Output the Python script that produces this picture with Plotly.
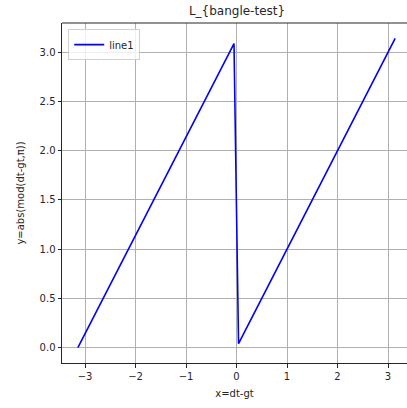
import plotly.graph_objects as go

# Data (y = abs(mod(x, pi)))
x_vals = [-3.1416, -0.05, 0.04, 3.1416]
y_vals = [0.0, 3.09, 0.04, 3.1416]

x_ticks = [-3, -2, -1, 0, 1, 2, 3]
x_ticktext = ["\u22123", "\u22122", "\u22121", "0", "1", "2", "3"]
y_ticks = [0.0, 0.5, 1.0, 1.5, 2.0, 2.5, 3.0]
y_ticktext = ["0.0", "0.5", "1.0", "1.5", "2.0", "2.5", "3.0"]

title_text = "L_{bangle-test}"
x_title = "x=dt-gt"
y_title = "y=abs(mod(dt-gt,\u03c0))"
series_name = "line1"

FONT = "DejaVu Sans"

fig = go.Figure()
fig.add_trace(go.Scatter(x=x_vals, y=y_vals, mode="lines", name=series_name,
                         line=dict(color="#0000ff", width=1.6)))

fig.update_layout(
    width=407, height=408,
    margin=dict(l=62, r=0, t=23, b=45),
    paper_bgcolor="white", plot_bgcolor="white",
    font=dict(family=FONT, size=10, color="#262626"),
    title=dict(text=title_text, x=237/407, xanchor="center", y=1 - 11/408, yanchor="middle",
               font=dict(family=FONT, size=12, color="#262626")),
    showlegend=True,
    legend=dict(x=0.018, y=0.982, xanchor="left", yanchor="top",
                bgcolor="rgba(255,255,255,0.8)", bordercolor="#d0d0d0", borderwidth=1,
                font=dict(family=FONT, size=10, color="#262626"),
                itemwidth=30, tracegroupgap=0),
    shapes=[dict(type="line", xref="paper", yref="paper", x0=0, x1=1, y0=1, y1=1,
                 line=dict(color="#262626", width=1))],
)

fig.update_xaxes(range=[-3.456, 3.376], tickvals=x_ticks, ticktext=x_ticktext,
                 showgrid=True, gridcolor="#b0b0b0", gridwidth=0.8,
                 showline=True, linecolor="#262626", linewidth=1,
                 ticks="outside", ticklen=3.5, tickcolor="#262626", zeroline=False,
                 title=dict(text=x_title, font=dict(family=FONT, size=10, color="#262626"), standoff=9))
fig.update_yaxes(range=[-0.157, 3.299], tickvals=y_ticks, ticktext=y_ticktext,
                 showgrid=True, gridcolor="#b0b0b0", gridwidth=0.8,
                 showline=True, linecolor="#262626", linewidth=1,
                 ticks="outside", ticklen=3.5, tickcolor="#262626", zeroline=False,
                 title=dict(text=y_title, font=dict(family=FONT, size=10, color="#262626"), standoff=13))

fig.write_html("out.html", config={"displayModeBar": False},
               post_script="document.body.style.margin='0';")
